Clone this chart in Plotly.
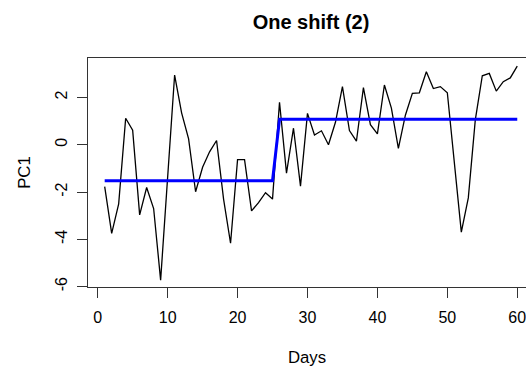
import plotly.graph_objects as go

# ---- data ----
days = list(range(1, 61))
pc1 = [-1.77, -3.75, -2.5, 1.12, 0.62, -2.97, -1.81, -2.7, -5.73, -1.55,
       2.95, 1.35, 0.25, -1.99, -0.95, -0.3, 0.18, -2.3, -4.17, -0.63,
       -0.63, -2.8, -2.45, -2.03, -2.3, 1.8, -1.2, 0.7, -1.75, 1.33,
       0.41, 0.59, 0.0, 0.95, 2.46, 0.6, 0.15, 2.42, 0.85, 0.46,
       2.53, 1.55, -0.15, 1.25, 2.18, 2.2, 3.09, 2.38, 2.46, 2.2,
       -0.9, -3.7, -2.25, 1.05, 2.92, 3.02, 2.27, 2.67, 2.83, 3.33]
shift_day = 25                 # last day of the first regime
segment_means = [-1.52, 1.08]  # fitted level before / after the shift
fit = [segment_means[0] if d <= shift_day else segment_means[1] for d in days]

x_ticks = [0, 10, 20, 30, 40, 50, 60]
x_ticklabels = ["0", "10", "20", "30", "40", "50", "60"]
y_ticks = [-6, -4, -2, 0, 2]
y_ticklabels = ["-6", "-4", "-2", "0", "2"]

FONT = "Liberation Sans, Arial, sans-serif"

fig = go.Figure()
fig.add_trace(go.Scatter(x=days, y=pc1, mode="lines",
                         line=dict(color="black", width=1.3), showlegend=False))
fig.add_trace(go.Scatter(x=days, y=fit, mode="lines",
                         line=dict(color="#0000FF", width=3), showlegend=False))

fig.update_layout(
    width=526, height=374,
    margin=dict(l=88, r=0, t=58, b=87),
    paper_bgcolor="white", plot_bgcolor="white",
    font=dict(family=FONT, size=16, color="black"),
    title=dict(text="<b>One shift (2)</b>", font=dict(family=FONT, size=20, color="black"),
               xref="container", yref="container", x=311/526, y=1-22/374,
               xanchor="center", yanchor="middle"),
)
fig.update_xaxes(
    range=[-1.387, 61.25], tickmode="array", tickvals=x_ticks, ticktext=x_ticklabels,
    ticks="outside", ticklen=10, tickwidth=1, tickcolor="#333",
    ticklabelstandoff=6, ticklabeloverflow="allow",
    showline=True, linecolor="#333", linewidth=1, mirror=True,
    showgrid=False, zeroline=False,
    title=dict(text="Days", standoff=26, font=dict(family=FONT, size=16.8, color="black")),
)
fig.update_yaxes(
    range=[-6.021, 3.672], tickmode="array", tickvals=y_ticks, ticktext=y_ticklabels,
    tickangle=-90, ticklabelstandoff=4,
    ticks="outside", ticklen=10, tickwidth=1, tickcolor="#333",
    showline=True, linecolor="#333", linewidth=1, mirror=False,
    showgrid=False, zeroline=False,
    title=dict(text="PC1", standoff=17, font=dict(family=FONT, size=16.8, color="black")),
)

fig.write_html("out.html")
